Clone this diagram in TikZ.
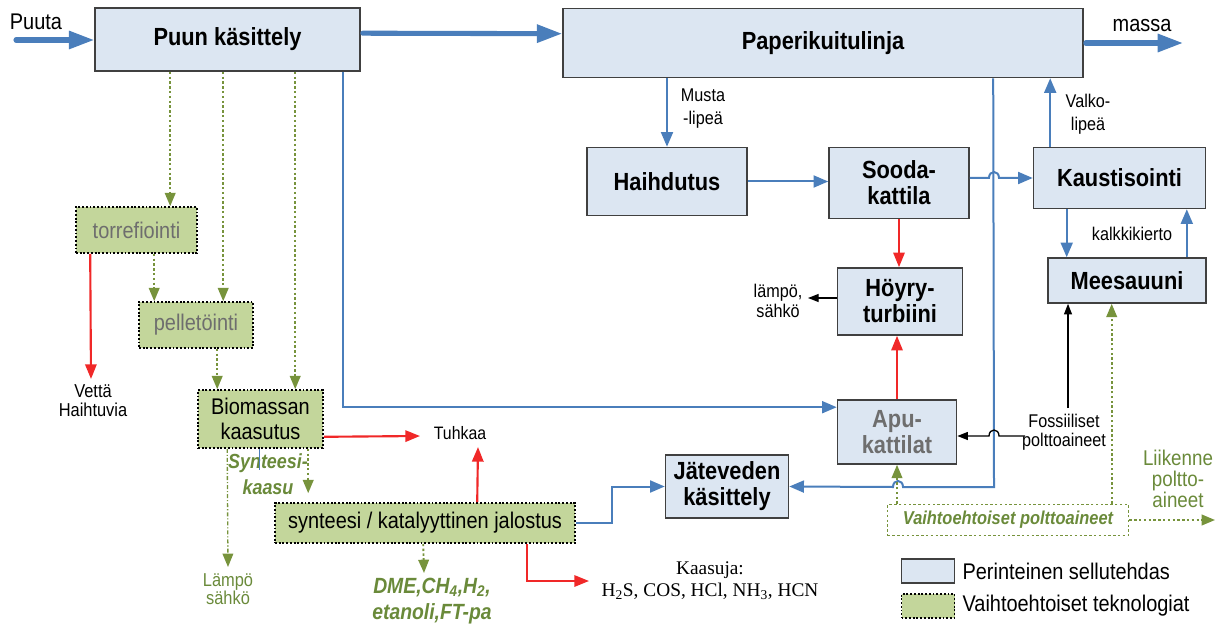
\documentclass[tikz,border=0pt]{standalone}
\usepackage{fontspec}
\setmainfont[FakeStretch=0.88]{Liberation Sans}
\newfontfamily\serifface{Liberation Serif}
\usetikzlibrary{arrows.meta,calc}

\definecolor{boxblue}{HTML}{DCE6F2}
\definecolor{boxedge}{HTML}{404040}
\definecolor{flowblue}{HTML}{4A7EBB}
\definecolor{techgreen}{HTML}{C3D69B}
\definecolor{linegreen}{HTML}{77933C}
\definecolor{textgreen}{HTML}{6A8A3A}
\definecolor{flowred}{HTML}{F02828}
\definecolor{greytext}{HTML}{6E6E6E}

\tikzset{
  sz/.style 2 args={minimum width=#1*0.75pt, minimum height=#2*0.75pt},
  mill/.style={draw=boxedge, line width=1.2pt, fill=boxblue, inner sep=0pt,
    align=center, font=\bfseries\fontsize{18.6}{19.5}\selectfont},
  tech/.style={draw=black, dash pattern=on 1.4pt off 1.4pt, line width=1.2pt,
    fill=techgreen, inner sep=0pt, align=center, font=\fontsize{17}{19}\selectfont},
  lbl/.style={inner sep=0pt, align=center, font=\fontsize{13.8}{17}\selectfont},
  greenlbl/.style={inner sep=0pt, align=center, text=textgreen},
  mainflow/.style={draw=flowblue, line width=3.8pt, line cap=round,
    -{Triangle[length=19pt,width=13pt]}},
  flow/.style={draw=flowblue, line width=1.5pt, -{Triangle[length=11pt,width=9pt]}},
  heat/.style={draw=flowred, line width=1.6pt, -{Triangle[length=11pt,width=8.5pt]}},
  blk/.style={draw=black, line width=1pt, -{Triangle[length=8pt,width=6pt]}},
  gflow/.style={draw=linegreen, line width=1.4pt, dash pattern=on 1.8pt off 1.8pt,
    -{Triangle[length=10pt,width=8pt]}},
}

\begin{document}
\begin{tikzpicture}[x=0.75pt, y=-0.75pt]
\useasboundingbox (0,0) rectangle (1219,627);

% process units of the pulp mill
\node[mill, sz={265}{63}] (puun) at (227.5,39.5) {Puun käsittely};
\node[mill, sz={520}{69}] (paperi) at (823,43) {Paperikuitulinja};
\node[mill, sz={160}{68}] (haihd) at (667,181.5) {Haihdutus};
\node[mill, sz={140}{71}] (sooda) at (899,183) {Sooda-\\kattila};
\node[mill, sz={172}{61}] (kaust) at (1119.5,178) {Kaustisointi};
\node[mill, sz={158}{45}] (mees) at (1127,280.5) {Meesauuni};
\node[mill, sz={125}{67}] (hoyry) at (900,301.5) {Höyry-\\turbiini};
\node[mill, sz={119}{64}, text=greytext] (apu) at (897,432) {Apu-\\kattilat};
\node[mill, sz={123}{63}] (jate) at (727,486.5) {Jäteveden\\käsittely};

% alternative technologies
\node[tech, sz={121}{46}, text=greytext] (torr) at (136.5,230) {torrefiointi};
\node[tech, sz={114}{46}, text=greytext] (pell) at (196,325) {pelletöinti};
\node[tech, sz={125}{58}] (bio) at (260.5,419) {Biomassan\\kaasutus};
\node[tech, sz={300}{40}] (synt) at (425,523) {synteesi / katalyyttinen jalostus};
\node[draw=linegreen, dash pattern=on 1.8pt off 1.8pt, line width=1.2pt, sz={241}{31},
  inner sep=0pt, font=\bfseries\itshape\fontsize{14}{16}\selectfont, text=textgreen]
  (vaiht) at (1008,520) {Vaihtoehtoiset polttoaineet};

% legend
\node[mill, sz={53}{24}] (legA) at (928,571) {};
\node[tech, sz={53}{24}] (legB) at (928,606) {};
\node[anchor=west, inner sep=0pt, font=\fontsize{17}{19}\selectfont] (legAt)
  at ($(legA.east)+(7,0)$) {Perinteinen sellutehdas};
\node[anchor=west, inner sep=0pt, font=\fontsize{17}{19}\selectfont] (legBt)
  at ($(legB.east)+(7,0)$) {Vaihtoehtoiset teknologiat};

% free labels
\node[lbl, font=\fontsize{17}{19}\selectfont] (puuta) at (36,22) {Puuta};
\node[lbl, font=\fontsize{17}{19}\selectfont] (massa) at (1142,26) {massa};
\node[lbl] (musta) at (703,108.5) {Musta\\-lipeä};
\node[lbl] (valko) at (1088,114.5) {Valko-\\lipeä};
\node[lbl] (kalkki) at (1132,234) {kalkkikierto};
\node[lbl, font=\fontsize{13.8}{14.5}\selectfont] (lampo) at (778,301) {lämpö,\\sähkö};
\node[lbl, font=\fontsize{13.8}{14.5}\selectfont] (foss) at (1064,432) {Fossiiliset\\polttoaineet};
\node[lbl, font=\fontsize{14}{14.5}\selectfont] (vetta) at (93,401) {Vettä\\Haihtuvia};
\node[lbl, font=\fontsize{13.5}{15}\selectfont] (tuhkaa) at (460,433) {Tuhkaa};
\node[greenlbl, font=\bfseries\itshape\fontsize{15.3}{19.5}\selectfont] (syngas)
  at (268,474) {Synteesi-\\kaasu};
\node[greenlbl, font=\fontsize{14}{14}\selectfont] (lampo2) at (228,589) {Lämpö\\sähkö};
\node[greenlbl, font=\bfseries\itshape\fontsize{16.5}{19.5}\selectfont] (dme)
  at (432,601) {DME,CH\textsubscript{4},H\textsubscript{2},\\etanoli,FT-pa};
\node[inner sep=0pt, align=center, font=\serifface\fontsize{14.5}{16.5}\selectfont] (kaasuja)
  at (710,581) {Kaasuja:\\H\textsubscript{2}S, COS, HCl, NH\textsubscript{3}, HCN};
\node[greenlbl, font=\fontsize{16}{16}\selectfont] (liik) at (1178,479)
  {Liikenne\\poltto-\\aineet};

% free ends of connectors
\coordinate (inflow) at (16,40);
\coordinate (massaend) at (1183,43);
\coordinate (lampoend) at (808,298);
\coordinate (fossin) at (1025,436);
\coordinate (fossup) at (1068,408);
\coordinate (liikend) at (1215,521);
\coordinate (vettaend) at (91,379);
\coordinate (tuhkain) at (420,436);
\coordinate (tuhkaup) at (478,447);
\coordinate (lampo2end) at (228,567);
\coordinate (dmeend) at (424,573);
\coordinate (kaasujaend) at (589,581);

% main fibre line
\draw[mainflow] (inflow) -- (puun.west |- inflow);
\draw[mainflow] ($(puun.north east)+(2,26)$) -- ($(paperi.north west)+(0,26)$);
\draw[mainflow] ($(paperi.east |- massaend)+(2,0)$) -- (massaend);

% chemical recovery
\draw[flow] (paperi.south -| haihd.north) -- (haihd.north);
\draw[flow] (haihd.east) -- (sooda.west |- haihd.east);
\draw[flow] (sooda.east |- kaust.west) -- (989,178)
  .. controls (989,170) and (999,170) .. (999,178) -- (kaust.west);
\coordinate (valkostart) at ($(kaust.north west)+(17.5,0)$);
\draw[flow] (valkostart) -- (valkostart |- paperi.south);
\coordinate (kmdown) at ($(kaust.south west)+(34,0)$);
\draw[flow] (kmdown) -- (kmdown |- mees.north);
\coordinate (kmup) at ($(mees.north east)+(-20,0)$);
\draw[flow] (kmup) -- (kmup |- kaust.south);
\draw[flow] ($(paperi.south west)+(431,0)$) -- (994,487) -- (903,487)
  .. controls (903,479) and (893,479) .. (893,487) -- (jate.east);
\coordinate (puunapu) at ($(puun.south west)+(249,0)$);
\draw[flow] (puunapu) |- ($(apu.north west)+(0,8)$);
\draw[flow] (synt.east) -- ++(36,0) |- (jate.west);

% steam and power
\draw[heat] (sooda.south) -- (sooda.south |- hoyry.north);
\draw[heat] (apu.north) -- (apu.north |- hoyry.south);
\draw[blk] (hoyry.west |- lampoend) -- (lampoend);
\draw[blk] (fossin) -- (999,436) .. controls (999,428) and (989,428) .. (989,436)
  -- (apu.east |- fossin);
\draw[blk] (fossup) -- (fossup |- mees.south);

% alternative fuels
\draw[gflow] (vaiht.north -| apu.south) -- (apu.south);
\coordinate (vmees) at ($(vaiht.north west)+(225,0)$);
\draw[gflow] (vmees) -- (vmees |- mees.south);
\draw[gflow] (vaiht.east) -- (liikend |- vaiht.east);

% biomass route
\draw[gflow] ($(puun.south west)+(76,0)$) -- ($(torr.north west)+(95,0)$);
\draw[gflow] ($(puun.south west)+(129,0)$) -- ($(pell.north west)+(85,0)$);
\draw[gflow] ($(puun.south west)+(201,0)$) -- ($(bio.north west)+(98,0)$);
\draw[gflow] ($(torr.south west)+(79,0)$) -- ($(pell.north west)+(16,0)$);
\draw[heat] ($(torr.south west)+(15,0)$) -- (vettaend);
\draw[gflow] ($(pell.south west)+(79,0)$) -- ($(bio.north west)+(20,0)$);
\draw[heat] ($(bio.south east)+(0,-12)$) -- (tuhkain);
\draw[heat] ($(synt.north west)+(203,0)$) -- (tuhkaup);
\draw[gflow, dash pattern=on 3pt off 1.5pt on 0.8pt off 1.5pt, line width=1pt]
  ($(bio.south west)+(30,0)$) -- (lampo2end);
\draw[gflow] ($(bio.south west)+(111,0)$) -- ($(synt.north west)+(34,-9)$);
\draw[flowblue, line width=1pt] ($(bio.south west)+(62,0)$) -- ++(0,21);
\draw[gflow] ($(synt.south west)+(149,0)$) -- (dmeend);
\draw[heat] ($(synt.south west)+(253,0)$) |- (kaasujaend);
\end{tikzpicture}
\end{document}
